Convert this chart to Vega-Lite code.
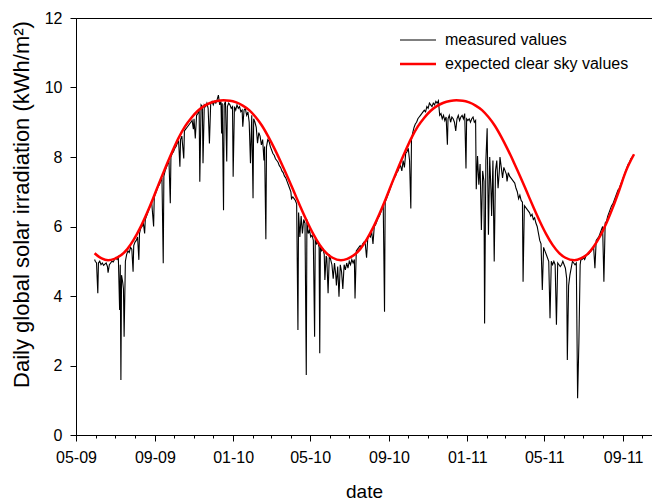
{
"$schema": "https://vega.github.io/schema/vega-lite/v6.json",
"width": 576, "height": 417,
"autosize": {"type": "none"},
"padding": {"left": 76, "top": 18, "right": 0, "bottom": 68},
"background": "white",
"config": {
  "view": {"stroke": "black", "strokeWidth": 1},
  "font": "Liberation Sans",
  "axis": {"domainColor": "black", "tickColor": "black", "labelColor": "black", "titleColor": "black", "grid": false, "labelFont": "Liberation Sans", "titleFont": "Liberation Sans", "labelFontSize": 16, "titleFontWeight": "normal", "domainWidth": 1, "tickWidth": 1},
  "legend": {"labelFontSize": 16, "labelFont": "Liberation Sans", "labelFontWeight": "normal", "labelLimit": 0, "labelColor": "black", "padding": 0}
},
"datasets": {
"m": [
{"d":"2009-05-30","v":5.05},{"d":"2009-05-31","v":5.0},{"d":"2009-06-02","v":4.95},{"d":"2009-06-04","v":4.08},{"d":"2009-06-05","v":4.95},{"d":"2009-06-07","v":5.0},{"d":"2009-06-09","v":4.9},{"d":"2009-06-11","v":4.95},{"d":"2009-06-13","v":4.88},{"d":"2009-06-15","v":4.92},{"d":"2009-06-17","v":4.95},{"d":"2009-06-19","v":4.85},{"d":"2009-06-20","v":4.67},{"d":"2009-06-22","v":4.9},{"d":"2009-06-24","v":4.95},{"d":"2009-06-26","v":5.0},{"d":"2009-06-28","v":4.98},{"d":"2009-06-30","v":5.05},
{"d":"2009-07-02","v":5.1},{"d":"2009-07-04","v":5.05},{"d":"2009-07-06","v":5.12},{"d":"2009-07-08","v":3.6},{"d":"2009-07-09","v":4.9},{"d":"2009-07-10","v":1.58},{"d":"2009-07-11","v":4.6},{"d":"2009-07-13","v":4.37},{"d":"2009-07-14","v":4.2},{"d":"2009-07-15","v":2.83},{"d":"2009-07-17","v":5.0},{"d":"2009-07-19","v":5.2},{"d":"2009-07-21","v":5.3},{"d":"2009-07-23","v":5.25},{"d":"2009-07-25","v":5.4},{"d":"2009-07-27","v":5.35},{"d":"2009-07-29","v":4.7},{"d":"2009-07-30","v":5.45},
{"d":"2009-08-01","v":5.55},{"d":"2009-08-03","v":5.6},{"d":"2009-08-05","v":5.7},{"d":"2009-08-07","v":5.04},{"d":"2009-08-08","v":5.8},{"d":"2009-08-10","v":5.95},{"d":"2009-08-12","v":6.0},{"d":"2009-08-14","v":6.1},{"d":"2009-08-16","v":5.8},{"d":"2009-08-17","v":6.2},{"d":"2009-08-19","v":6.3},{"d":"2009-08-21","v":6.4},{"d":"2009-08-23","v":6.5},{"d":"2009-08-25","v":6.6},{"d":"2009-08-27","v":6.7},{"d":"2009-08-30","v":6.0},{"d":"2009-08-31","v":6.85},
{"d":"2009-09-02","v":6.95},{"d":"2009-09-04","v":7.05},{"d":"2009-09-06","v":7.15},{"d":"2009-09-08","v":7.2},{"d":"2009-09-10","v":7.3},{"d":"2009-09-12","v":7.4},{"d":"2009-09-14","v":4.94},{"d":"2009-09-15","v":7.45},{"d":"2009-09-17","v":7.6},{"d":"2009-09-19","v":7.7},{"d":"2009-09-21","v":7.8},{"d":"2009-09-23","v":7.85},{"d":"2009-09-25","v":6.67},{"d":"2009-09-26","v":8.0},{"d":"2009-09-28","v":8.1},{"d":"2009-09-30","v":8.15},
{"d":"2009-10-02","v":8.25},{"d":"2009-10-04","v":8.3},{"d":"2009-10-06","v":8.4},{"d":"2009-10-08","v":8.45},{"d":"2009-10-10","v":7.72},{"d":"2009-10-11","v":8.5},{"d":"2009-10-13","v":8.6},{"d":"2009-10-16","v":7.96},{"d":"2009-10-17","v":8.75},{"d":"2009-10-19","v":8.8},{"d":"2009-10-21","v":8.85},{"d":"2009-10-23","v":8.9},{"d":"2009-10-25","v":8.95},{"d":"2009-10-27","v":9.0},{"d":"2009-10-29","v":9.05},{"d":"2009-10-31","v":8.8},
{"d":"2009-11-01","v":9.1},{"d":"2009-11-03","v":8.53},{"d":"2009-11-05","v":9.2},{"d":"2009-11-07","v":9.25},{"d":"2009-11-09","v":9.35},{"d":"2009-11-10","v":7.29},{"d":"2009-11-12","v":9.5},{"d":"2009-11-14","v":9.45},{"d":"2009-11-15","v":7.82},{"d":"2009-11-17","v":9.5},{"d":"2009-11-19","v":9.45},{"d":"2009-11-21","v":9.55},{"d":"2009-11-23","v":9.4},{"d":"2009-11-25","v":8.39},{"d":"2009-11-27","v":9.55},{"d":"2009-11-29","v":9.6},
{"d":"2009-12-01","v":9.5},{"d":"2009-12-03","v":9.6},{"d":"2009-12-05","v":9.55},{"d":"2009-12-07","v":9.65},{"d":"2009-12-09","v":9.78},{"d":"2009-12-11","v":9.5},{"d":"2009-12-13","v":9.6},{"d":"2009-12-14","v":8.68},{"d":"2009-12-15","v":9.55},{"d":"2009-12-17","v":6.47},{"d":"2009-12-18","v":9.5},{"d":"2009-12-20","v":9.6},{"d":"2009-12-22","v":7.87},{"d":"2009-12-23","v":9.45},{"d":"2009-12-25","v":9.55},{"d":"2009-12-27","v":9.5},{"d":"2009-12-29","v":9.4},{"d":"2009-12-31","v":9.45},
{"d":"2010-01-01","v":7.43},{"d":"2010-01-03","v":9.45},{"d":"2010-01-05","v":9.35},{"d":"2010-01-07","v":9.5},{"d":"2010-01-09","v":9.4},{"d":"2010-01-11","v":9.45},{"d":"2010-01-13","v":9.3},{"d":"2010-01-15","v":9.35},{"d":"2010-01-16","v":8.87},{"d":"2010-01-18","v":9.35},{"d":"2010-01-20","v":9.4},{"d":"2010-01-22","v":9.2},{"d":"2010-01-24","v":9.3},{"d":"2010-01-26","v":9.0},{"d":"2010-01-28","v":7.82},{"d":"2010-01-30","v":9.2},
{"d":"2010-02-01","v":6.81},{"d":"2010-02-02","v":9.1},{"d":"2010-02-04","v":9.0},{"d":"2010-02-06","v":8.85},{"d":"2010-02-08","v":8.4},{"d":"2010-02-10","v":8.7},{"d":"2010-02-12","v":8.6},{"d":"2010-02-14","v":8.35},{"d":"2010-02-16","v":8.5},{"d":"2010-02-18","v":7.9},{"d":"2010-02-19","v":8.3},{"d":"2010-02-21","v":5.63},{"d":"2010-02-22","v":8.3},{"d":"2010-02-24","v":8.5},{"d":"2010-02-26","v":8.45},{"d":"2010-02-28","v":8.3},
{"d":"2010-03-02","v":8.2},{"d":"2010-03-04","v":8.1},{"d":"2010-03-06","v":8.05},{"d":"2010-03-08","v":7.95},{"d":"2010-03-10","v":7.9},{"d":"2010-03-12","v":7.85},{"d":"2010-03-14","v":7.75},{"d":"2010-03-16","v":7.7},{"d":"2010-03-18","v":7.6},{"d":"2010-03-20","v":7.55},{"d":"2010-03-22","v":7.45},{"d":"2010-03-24","v":7.4},{"d":"2010-03-26","v":7.3},{"d":"2010-03-28","v":7.2},{"d":"2010-03-30","v":7.1},
{"d":"2010-04-01","v":7.0},{"d":"2010-04-02","v":6.8},{"d":"2010-04-04","v":6.85},{"d":"2010-04-06","v":6.8},{"d":"2010-04-08","v":6.75},{"d":"2010-04-10","v":6.65},{"d":"2010-04-12","v":3.02},{"d":"2010-04-13","v":6.4},{"d":"2010-04-15","v":5.7},{"d":"2010-04-17","v":6.3},{"d":"2010-04-19","v":5.8},{"d":"2010-04-21","v":6.2},{"d":"2010-04-23","v":6.1},{"d":"2010-04-25","v":1.73},{"d":"2010-04-26","v":6.2},{"d":"2010-04-28","v":5.8},{"d":"2010-04-30","v":5.9},
{"d":"2010-05-02","v":5.7},{"d":"2010-05-04","v":5.75},{"d":"2010-05-06","v":5.6},{"d":"2010-05-08","v":2.83},{"d":"2010-05-09","v":5.65},{"d":"2010-05-11","v":5.5},{"d":"2010-05-13","v":5.55},{"d":"2010-05-15","v":5.4},{"d":"2010-05-16","v":2.35},{"d":"2010-05-17","v":5.45},{"d":"2010-05-19","v":5.3},{"d":"2010-05-21","v":5.35},{"d":"2010-05-23","v":5.2},{"d":"2010-05-24","v":4.46},{"d":"2010-05-26","v":5.15},{"d":"2010-05-27","v":5.1},{"d":"2010-05-29","v":4.08},{"d":"2010-05-31","v":5.2},
{"d":"2010-06-02","v":5.05},{"d":"2010-06-04","v":4.9},{"d":"2010-06-06","v":4.5},{"d":"2010-06-08","v":4.95},{"d":"2010-06-10","v":4.6},{"d":"2010-06-11","v":4.3},{"d":"2010-06-13","v":4.85},{"d":"2010-06-15","v":3.98},{"d":"2010-06-17","v":4.9},{"d":"2010-06-19","v":4.7},{"d":"2010-06-21","v":4.2},{"d":"2010-06-23","v":4.9},{"d":"2010-06-25","v":4.75},{"d":"2010-06-27","v":4.95},{"d":"2010-06-29","v":4.8},
{"d":"2010-07-01","v":5.0},{"d":"2010-07-03","v":4.9},{"d":"2010-07-05","v":5.05},{"d":"2010-07-07","v":4.95},{"d":"2010-07-09","v":5.05},{"d":"2010-07-10","v":3.93},{"d":"2010-07-12","v":5.3},{"d":"2010-07-14","v":5.35},{"d":"2010-07-16","v":5.4},{"d":"2010-07-18","v":5.45},{"d":"2010-07-20","v":5.4},{"d":"2010-07-22","v":5.5},{"d":"2010-07-24","v":5.55},{"d":"2010-07-26","v":5.5},{"d":"2010-07-28","v":5.1},{"d":"2010-07-30","v":5.7},
{"d":"2010-08-01","v":5.75},{"d":"2010-08-03","v":5.7},{"d":"2010-08-05","v":5.85},{"d":"2010-08-07","v":5.5},{"d":"2010-08-09","v":6.0},{"d":"2010-08-11","v":6.05},{"d":"2010-08-13","v":6.15},{"d":"2010-08-15","v":6.25},{"d":"2010-08-17","v":6.3},{"d":"2010-08-19","v":6.4},{"d":"2010-08-21","v":6.5},{"d":"2010-08-23","v":6.6},{"d":"2010-08-25","v":3.55},{"d":"2010-08-26","v":6.7},{"d":"2010-08-28","v":6.8},{"d":"2010-08-30","v":6.9},
{"d":"2010-09-01","v":7.0},{"d":"2010-09-03","v":7.1},{"d":"2010-09-05","v":7.2},{"d":"2010-09-07","v":7.3},{"d":"2010-09-09","v":7.4},{"d":"2010-09-11","v":7.45},{"d":"2010-09-13","v":7.55},{"d":"2010-09-15","v":7.6},{"d":"2010-09-17","v":7.7},{"d":"2010-09-19","v":7.75},{"d":"2010-09-21","v":7.6},{"d":"2010-09-23","v":7.9},{"d":"2010-09-25","v":7.7},{"d":"2010-09-27","v":8.1},{"d":"2010-09-29","v":8.15},
{"d":"2010-10-01","v":8.25},{"d":"2010-10-03","v":7.9},{"d":"2010-10-05","v":6.52},{"d":"2010-10-06","v":8.5},{"d":"2010-10-08","v":8.7},{"d":"2010-10-10","v":8.85},{"d":"2010-10-12","v":8.95},{"d":"2010-10-14","v":9.0},{"d":"2010-10-16","v":9.1},{"d":"2010-10-18","v":9.15},{"d":"2010-10-20","v":9.2},{"d":"2010-10-22","v":9.25},{"d":"2010-10-24","v":9.3},{"d":"2010-10-26","v":9.35},{"d":"2010-10-28","v":9.3},{"d":"2010-10-30","v":9.45},
{"d":"2010-11-01","v":9.4},{"d":"2010-11-03","v":9.55},{"d":"2010-11-05","v":9.5},{"d":"2010-11-07","v":9.45},{"d":"2010-11-09","v":9.55},{"d":"2010-11-11","v":9.5},{"d":"2010-11-13","v":9.6},{"d":"2010-11-15","v":9.55},{"d":"2010-11-17","v":9.62},{"d":"2010-11-19","v":9.2},{"d":"2010-11-21","v":9.25},{"d":"2010-11-23","v":9.1},{"d":"2010-11-25","v":9.2},{"d":"2010-11-27","v":9.05},{"d":"2010-11-29","v":9.15},
{"d":"2010-12-01","v":8.35},{"d":"2010-12-02","v":9.1},{"d":"2010-12-04","v":9.2},{"d":"2010-12-06","v":9.0},{"d":"2010-12-08","v":9.15},{"d":"2010-12-10","v":9.1},{"d":"2010-12-12","v":9.0},{"d":"2010-12-14","v":8.75},{"d":"2010-12-16","v":9.1},{"d":"2010-12-18","v":9.2},{"d":"2010-12-20","v":9.05},{"d":"2010-12-22","v":9.15},{"d":"2010-12-24","v":9.2},{"d":"2010-12-26","v":9.1},{"d":"2010-12-28","v":9.25},{"d":"2010-12-30","v":7.67},{"d":"2010-12-31","v":9.1},
{"d":"2011-01-02","v":9.05},{"d":"2011-01-04","v":9.1},{"d":"2011-01-06","v":9.0},{"d":"2011-01-08","v":9.1},{"d":"2011-01-10","v":9.15},{"d":"2011-01-12","v":9.0},{"d":"2011-01-14","v":9.05},{"d":"2011-01-15","v":7.07},{"d":"2011-01-17","v":8.03},{"d":"2011-01-19","v":7.2},{"d":"2011-01-21","v":7.8},{"d":"2011-01-23","v":5.9},{"d":"2011-01-25","v":7.6},{"d":"2011-01-27","v":7.3},{"d":"2011-01-28","v":3.21},{"d":"2011-01-30","v":7.9},
{"d":"2011-02-01","v":8.83},{"d":"2011-02-03","v":5.76},{"d":"2011-02-05","v":8.0},{"d":"2011-02-07","v":7.0},{"d":"2011-02-08","v":6.3},{"d":"2011-02-10","v":7.9},{"d":"2011-02-12","v":4.99},{"d":"2011-02-14","v":7.6},{"d":"2011-02-16","v":7.9},{"d":"2011-02-18","v":7.1},{"d":"2011-02-20","v":7.6},{"d":"2011-02-21","v":8.0},{"d":"2011-02-23","v":7.7},{"d":"2011-02-25","v":7.4},{"d":"2011-02-27","v":7.7},
{"d":"2011-03-01","v":7.6},{"d":"2011-03-03","v":7.5},{"d":"2011-03-04","v":7.3},{"d":"2011-03-06","v":7.55},{"d":"2011-03-08","v":7.45},{"d":"2011-03-10","v":7.4},{"d":"2011-03-12","v":7.35},{"d":"2011-03-14","v":7.3},{"d":"2011-03-16","v":7.25},{"d":"2011-03-18","v":7.1},{"d":"2011-03-20","v":7.0},{"d":"2011-03-22","v":6.8},{"d":"2011-03-24","v":6.9},{"d":"2011-03-26","v":6.75},{"d":"2011-03-28","v":6.7},{"d":"2011-03-29","v":4.41},{"d":"2011-03-31","v":6.6},
{"d":"2011-04-02","v":6.55},{"d":"2011-04-04","v":6.5},{"d":"2011-04-06","v":6.45},{"d":"2011-04-08","v":6.4},{"d":"2011-04-10","v":6.3},{"d":"2011-04-12","v":6.35},{"d":"2011-04-14","v":6.2},{"d":"2011-04-16","v":6.25},{"d":"2011-04-18","v":6.1},{"d":"2011-04-20","v":6.0},{"d":"2011-04-22","v":5.8},{"d":"2011-04-24","v":5.6},{"d":"2011-04-26","v":5.5},{"d":"2011-04-28","v":4.17},{"d":"2011-04-30","v":5.4},
{"d":"2011-05-02","v":5.3},{"d":"2011-05-04","v":5.2},{"d":"2011-05-06","v":5.1},{"d":"2011-05-08","v":5.0},{"d":"2011-05-10","v":3.36},{"d":"2011-05-12","v":5.0},{"d":"2011-05-14","v":4.9},{"d":"2011-05-16","v":5.0},{"d":"2011-05-18","v":4.9},{"d":"2011-05-20","v":3.17},{"d":"2011-05-22","v":4.95},{"d":"2011-05-24","v":4.9},{"d":"2011-05-26","v":4.85},{"d":"2011-05-28","v":4.9},{"d":"2011-05-30","v":5.0},
{"d":"2011-06-01","v":4.9},{"d":"2011-06-03","v":4.8},{"d":"2011-06-05","v":4.5},{"d":"2011-06-06","v":2.16},{"d":"2011-06-08","v":4.3},{"d":"2011-06-10","v":4.6},{"d":"2011-06-12","v":4.8},{"d":"2011-06-14","v":5.0},{"d":"2011-06-16","v":4.95},{"d":"2011-06-18","v":4.9},{"d":"2011-06-20","v":4.95},{"d":"2011-06-22","v":1.06},{"d":"2011-06-24","v":2.64},{"d":"2011-06-26","v":4.9},{"d":"2011-06-27","v":5.04},{"d":"2011-06-29","v":5.05},
{"d":"2011-07-01","v":5.1},{"d":"2011-07-03","v":5.05},{"d":"2011-07-05","v":5.15},{"d":"2011-07-07","v":5.2},{"d":"2011-07-09","v":5.2},{"d":"2011-07-11","v":5.25},{"d":"2011-07-13","v":5.3},{"d":"2011-07-15","v":5.35},{"d":"2011-07-17","v":5.4},{"d":"2011-07-19","v":4.8},{"d":"2011-07-21","v":5.6},{"d":"2011-07-23","v":5.65},{"d":"2011-07-25","v":5.7},{"d":"2011-07-27","v":5.8},{"d":"2011-07-29","v":5.9},{"d":"2011-07-31","v":6.0},
{"d":"2011-08-02","v":4.41},{"d":"2011-08-04","v":6.1},{"d":"2011-08-06","v":6.15},{"d":"2011-08-08","v":6.3},{"d":"2011-08-10","v":6.4},{"d":"2011-08-12","v":6.5},{"d":"2011-08-14","v":6.6},{"d":"2011-08-16","v":6.65},{"d":"2011-08-18","v":6.75},{"d":"2011-08-20","v":6.85},{"d":"2011-08-22","v":6.95},{"d":"2011-08-24","v":7.05},{"d":"2011-08-26","v":7.1},{"d":"2011-08-28","v":7.2},{"d":"2011-08-30","v":7.3},
{"d":"2011-09-01","v":7.4},{"d":"2011-09-03","v":7.5},{"d":"2011-09-05","v":7.6},{"d":"2011-09-07","v":7.7},{"d":"2011-09-09","v":7.8},{"d":"2011-09-11","v":7.85},{"d":"2011-09-13","v":7.95},{"d":"2011-09-15","v":8.0},{"d":"2011-09-17","v":8.05}
],
"c": [
{"d":"2009-05-30","v":5.23},{"d":"2009-06-10","v":5.08},{"d":"2009-06-20","v":5.03},{"d":"2009-06-30","v":5.07},{"d":"2009-07-10","v":5.17},{"d":"2009-07-20","v":5.35},{"d":"2009-07-30","v":5.62},{"d":"2009-08-09","v":5.96},{"d":"2009-08-19","v":6.36},{"d":"2009-08-29","v":6.80},{"d":"2009-09-08","v":7.27},{"d":"2009-09-18","v":7.72},{"d":"2009-09-28","v":8.15},{"d":"2009-10-08","v":8.55},{"d":"2009-10-18","v":8.88},{"d":"2009-10-28","v":9.13},{"d":"2009-11-07","v":9.33},{"d":"2009-11-17","v":9.47},{"d":"2009-11-27","v":9.56},{"d":"2009-12-07","v":9.61},{"d":"2009-12-17","v":9.63},{"d":"2009-12-27","v":9.62},
{"d":"2010-01-06","v":9.57},{"d":"2010-01-16","v":9.48},{"d":"2010-01-26","v":9.35},{"d":"2010-02-05","v":9.15},{"d":"2010-02-15","v":8.90},{"d":"2010-02-25","v":8.58},{"d":"2010-03-07","v":8.22},{"d":"2010-03-17","v":7.83},{"d":"2010-03-27","v":7.42},{"d":"2010-04-06","v":6.99},{"d":"2010-04-16","v":6.56},{"d":"2010-04-26","v":6.15},{"d":"2010-05-06","v":5.78},{"d":"2010-05-16","v":5.47},{"d":"2010-05-26","v":5.24},{"d":"2010-06-05","v":5.10},{"d":"2010-06-18","v":5.03},{"d":"2010-06-28","v":5.07},
{"d":"2010-07-08","v":5.17},{"d":"2010-07-18","v":5.35},{"d":"2010-07-28","v":5.62},{"d":"2010-08-07","v":5.96},{"d":"2010-08-17","v":6.36},{"d":"2010-08-27","v":6.80},{"d":"2010-09-06","v":7.27},{"d":"2010-09-16","v":7.72},{"d":"2010-09-26","v":8.15},{"d":"2010-10-06","v":8.55},{"d":"2010-10-16","v":8.88},{"d":"2010-10-26","v":9.13},{"d":"2010-11-05","v":9.33},{"d":"2010-11-15","v":9.47},{"d":"2010-11-25","v":9.56},{"d":"2010-12-05","v":9.61},{"d":"2010-12-15","v":9.63},{"d":"2010-12-25","v":9.62},
{"d":"2011-01-04","v":9.57},{"d":"2011-01-14","v":9.48},{"d":"2011-01-24","v":9.35},{"d":"2011-02-03","v":9.15},{"d":"2011-02-13","v":8.90},{"d":"2011-02-23","v":8.58},{"d":"2011-03-05","v":8.22},{"d":"2011-03-15","v":7.83},{"d":"2011-03-25","v":7.42},{"d":"2011-04-04","v":6.99},{"d":"2011-04-14","v":6.56},{"d":"2011-04-24","v":6.15},{"d":"2011-05-04","v":5.78},{"d":"2011-05-14","v":5.47},{"d":"2011-05-24","v":5.24},{"d":"2011-06-03","v":5.10},{"d":"2011-06-17","v":5.03},{"d":"2011-06-27","v":5.08},
{"d":"2011-07-07","v":5.20},{"d":"2011-07-17","v":5.42},{"d":"2011-07-27","v":5.72},{"d":"2011-08-06","v":6.10},{"d":"2011-08-16","v":6.55},{"d":"2011-08-26","v":7.05},{"d":"2011-09-05","v":7.58},{"d":"2011-09-18","v":8.08}
]
},
"layer": [
{
  "data": {"name": "m"},
  "mark": {"type": "line", "strokeWidth": 1.1},
  "encoding": {
    "x": {"field": "d", "type": "temporal",
      "scale": {"type": "utc", "nice": false, "domain": [{"year": 2009, "month": 5, "date": 1, "utc": true}, {"year": 2011, "month": 10, "date": 16, "utc": true}]},
      "axis": {"title": "date", "tickCount": {"interval": "month", "step": 1},
        "labelExpr": "utcmonth(datum.value) % 4 === 0 ? utcFormat(datum.value, '%m-%y') : ''",
        "labelOverlap": false, "labelFlush": false, "labelPadding": 8,
        "tickSize": {"condition": {"test": "utcmonth(datum.value) % 4 === 0", "value": 6}, "value": 3},
        "titleFontSize": 19, "titlePadding": 17}},
    "y": {"field": "v", "type": "quantitative",
      "scale": {"domain": [0, 12], "nice": false},
      "axis": {"title": "Daily global solar irradiation (kWh/m²)", "values": [0, 2, 4, 6, 8, 10, 12], "tickSize": 6, "labelPadding": 8,
        "titleFontSize": 22, "titleX": -55, "titleY": 186, "titleAngle": 270, "titleAlign": "center", "titleBaseline": "middle"}},
    "color": {"datum": "measured values", "type": "nominal",
      "scale": {"domain": ["measured values", "expected clear sky values"], "range": ["#000000", "#ff0000"]},
      "legend": {"title": null, "orient": "none", "legendX": 334, "legendY": 14,
        "symbolType": "M-3,0H3", "symbolSize": 144, "labelOffset": 19, "rowPadding": 8,
        "encode": {"symbols": {"update": {"strokeWidth": {"signal": "datum.value === 'measured values' ? 1 : 2.5"}}}}}}
  }
},
{
  "data": {"name": "c"},
  "mark": {"type": "line", "interpolate": "monotone", "strokeWidth": 2.5},
  "encoding": {
    "x": {"field": "d", "type": "temporal"},
    "y": {"field": "v", "type": "quantitative"},
    "color": {"datum": "expected clear sky values", "type": "nominal"}
  }
}
]
}
